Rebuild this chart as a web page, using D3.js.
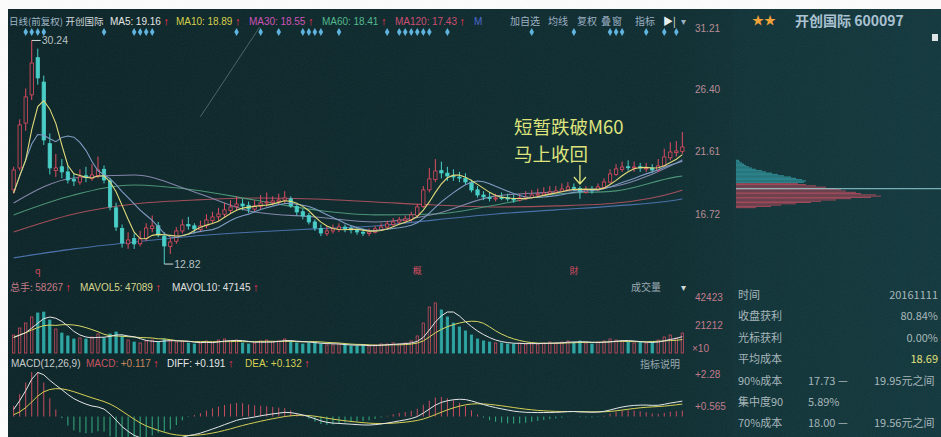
<!DOCTYPE html>
<html>
<head>
<meta charset="utf-8">
<script src="https://cdn.jsdelivr.net/npm/d3@7"></script>
<style>
html, body { margin: 0; padding: 0; background: #fff; }
svg { display: block; font-family: "Liberation Sans", "Noto Sans CJK SC", sans-serif; }
</style>
</head>
<body>
<div id="chart"></div>
<script>
// ---- data ----
// daily candles [open, high, low, close]
const candles = [
  [18.60,20.40,18.30,20.15],[20.30,24.10,20.10,23.66],[23.80,26.50,23.20,25.84],[26.00,30.24,25.60,28.48],
  [28.90,29.60,26.80,27.32],[27.00,27.50,22.10,22.49],[22.20,23.00,19.80,20.31],[20.10,21.40,19.60,20.31],
  [20.40,21.00,19.50,20.00],[20.00,20.50,19.10,19.37],[19.40,19.90,18.90,19.29],[19.20,20.20,19.00,19.61],
  [19.70,20.40,19.20,19.61],[19.50,20.60,19.30,19.76],[19.70,21.20,19.50,20.15],[20.20,20.50,19.10,19.37],
  [19.30,19.50,17.00,17.27],[17.20,17.60,15.40,15.71],[15.60,15.90,14.10,14.47],[14.40,15.30,14.00,14.70],
  [14.80,15.20,14.00,14.39],[14.40,15.40,14.20,14.78],[14.80,16.00,14.60,15.63],[15.60,16.60,15.30,15.79],
  [15.80,16.10,14.90,15.09],[15.00,15.30,12.82,14.23],[14.20,14.90,13.60,14.54],[14.60,15.70,14.40,15.40],
  [15.40,16.30,15.20,15.87],[15.90,16.50,15.50,15.79],[15.80,16.00,15.20,15.56],[15.50,16.20,15.30,15.79],
  [15.80,16.70,15.60,16.26],[16.20,16.90,16.00,16.49],[16.50,17.20,16.20,16.72],[16.70,17.60,16.50,17.04],
  [17.00,17.80,16.80,17.27],[17.30,18.10,17.00,17.50],[17.50,17.90,17.00,17.35],[17.40,17.70,16.80,17.11],
  [17.10,17.80,16.90,17.35],[17.30,18.20,17.10,17.58],[17.60,18.40,17.30,17.66],[17.60,18.10,17.40,17.74],
  [17.70,18.30,17.40,17.81],[17.80,18.50,17.50,17.97],[17.90,18.10,17.20,17.35],[17.30,17.50,16.60,16.88],
  [16.90,17.10,16.30,16.57],[16.60,16.80,15.90,16.10],[16.10,16.30,15.40,15.63],[15.60,15.90,15.00,15.24],
  [15.20,15.80,15.00,15.40],[15.40,15.90,15.20,15.56],[15.50,16.00,15.30,15.71],[15.70,15.90,15.30,15.56],
  [15.60,15.80,15.20,15.48],[15.50,15.70,15.10,15.32],[15.30,15.60,15.00,15.24],[15.20,15.60,15.00,15.32],
  [15.30,15.80,15.20,15.56],[15.50,16.00,15.40,15.71],[15.70,16.20,15.50,15.95],[15.90,16.40,15.70,16.10],
  [16.10,16.50,15.90,16.26],[16.20,16.60,16.00,16.34],[16.30,16.90,16.10,16.65],[16.60,17.50,16.50,17.27],
  [17.30,18.90,17.20,18.59],[18.60,20.30,18.40,19.45],[19.40,21.00,19.20,20.07],[20.10,20.80,19.50,19.92],
  [19.90,20.40,19.30,19.68],[19.70,20.20,19.30,19.61],[19.60,20.00,19.20,19.53],[19.50,19.90,19.00,19.22],
  [19.20,19.40,18.40,18.59],[18.60,18.90,18.00,18.20],[18.20,18.50,17.80,18.05],[18.00,18.40,17.70,17.97],
  [17.90,18.30,17.70,17.97],[18.00,18.40,17.80,17.97],[18.00,18.30,17.70,17.89],[17.90,18.20,17.60,17.81],
  [17.80,18.30,17.70,17.97],[17.90,18.50,17.80,18.05],[18.00,18.60,17.90,18.20],[18.20,18.70,18.00,18.28],
  [18.20,18.80,18.10,18.36],[18.30,18.90,18.20,18.44],[18.40,18.90,18.30,18.52],[18.50,19.10,18.40,18.67],
  [18.60,19.20,18.50,18.83],[18.80,19.10,18.50,18.75],[18.70,18.90,17.90,18.44],[18.40,18.90,18.30,18.59],
  [18.60,18.90,18.30,18.59],[18.60,19.10,18.50,18.83],[18.80,19.50,18.70,19.22],[19.20,20.20,19.10,19.84],
  [19.80,20.60,19.70,20.23],[20.20,20.80,20.00,20.38],[20.40,20.90,20.10,20.38],[20.30,20.80,20.00,20.38],
  [20.40,20.70,20.00,20.31],[20.30,20.70,20.00,20.31],[20.30,20.60,19.90,20.15],[20.10,21.00,20.00,20.46],
  [20.50,21.80,20.40,21.16],[21.10,22.30,20.90,21.55],[21.50,22.40,21.20,21.63],[21.60,23.10,21.40,21.94]
];
const priorCloses = [16.64, 18.30];

const volumes = [
  13600,18900,22700,27300,30300,31000,25000,18200,15100,12900,
  10600,11400,10600,12100,14400,11400,14400,15900,12900,9800,
  8300,7600,9100,9800,8300,10600,9100,8300,9100,7600,
  6800,7600,9100,8300,9800,10600,9100,9800,7600,6800,
  7600,9100,9800,8300,9100,10600,9100,7600,6800,7600,
  8300,6800,6100,6100,6800,6100,5300,5300,6100,5300,
  6100,6800,6800,7600,6800,7600,9100,12900,22700,34800,
  37900,32600,27300,22700,19700,16700,13600,10600,9100,8300,
  7600,7600,6800,6800,7600,6800,7600,6800,7600,8300,
  7600,8300,9100,8300,9100,7600,6800,8300,9100,10600,
  9800,9100,8300,7600,8300,7600,8300,9800,12100,13600,
  11400,15100
];
const priorVolumes = [9800, 12100];

// longer moving averages, read at these bar indices
const maIdx  = [0, 10, 20, 30, 40, 50, 60, 70, 80, 90, 100, 110, 111];
const ma30   = [17.58, 19.53, 19.76, 18.44, 16.88, 16.49, 16.10, 16.72, 18.13, 18.44, 18.90, 20.70, 20.93];
const ma60   = [16.65, 18.20, 18.98, 18.59, 17.81, 17.04, 16.65, 16.72, 17.42, 18.28, 18.52, 19.61, 19.68];
const ma120  = [15.32, 16.72, 17.50, 17.81, 17.97, 17.89, 17.66, 17.42, 17.27, 17.35, 17.58, 18.44, 18.59];
const ma250  = [13.30, 14.00, 14.54, 15.01, 15.32, 15.56, 15.79, 16.26, 16.72, 17.04, 17.35, 17.81, 17.89];

// a drawn trend line [barIndex, price]
const trendLine = [[31, 24.30], [41, 31.40]];

// info-mine markers (bar indices) and event marks
const infoMarks = [2,3,4,5,15,20,21,22,23,37,41,44,48,49,50,51,54,62,64,65,66,67,68,69,72,86,93,99,100,101,105,108,110];
const eventMarks = [[4, "q"], [67, "概"], [93, "財"]];

// tick labels
const priceTicks = [31.21, 26.40, 21.61, 16.72];
const volTicks = [42423, 21212];
const macdTicks = [2.28, 0.565];
const macdTickLabels = ["+2.28", "+0.565"];

// chip distribution (price, amount)
const chipPrices = [17.2,17.3,17.4,17.5,17.6,17.7,17.8,17.9,18.0,18.1,18.2,18.3,18.4,18.5,18.6,18.7,18.8,18.9,19.0,19.1,
                    19.2,19.3,19.4,19.5,19.6,19.7,19.8,19.9,20.0,20.1,20.2,20.3,20.4,20.5,20.6,20.7,20.8,20.9];
const chipAmounts = [20,35,45,60,75,85,100,115,135,145,140,125,120,110,105,100,90,80,70,62,
                     68,70,66,60,55,48,42,36,30,26,20,16,13,10,8,6,4,3];
const chipClose = 19.15;
const avgCost = 18.69;

// header texts
const maHeader = [
  ["MA5:", "19.16", "#e6e6e6"], ["MA10:", "18.89", "#d8d048"], ["MA30:", "18.55", "#cf4fb8"],
  ["MA60:", "18.41", "#4fb88c"], ["MA120:", "17.43", "#d0486e"]
];
const volHeader = [["总手:", "58267", "#c27884"], ["MAVOL5:", "47089", "#d8d88c"], ["MAVOL10:", "47145", "#e0e0e0"]];
const macdHeader = [["MACD:", "+0.117", "#c8505e"], ["DIFF:", "+0.191", "#e8e8e8"], ["DEA:", "+0.132", "#d8d050"]];
const toolButtons = ["加自选", "均线", "复权", "叠", "窗", "指标", "▶|", "▾"];
const statLabels = ["时间", "收盘获利", "光标获利", "平均成本", "90%成本", "集中度90", "70%成本"];
const statMid = ["", "", "", "", "17.73 —", "5.89%", "18.00 —"];
const statValues = ["20161111", "80.84%", "0.00%", "18.69", "19.95元之间", "", "19.56元之间"];

// ---- drawing ----
const width = 941, height = 437;
const svg = d3.select("#chart").append("svg").attr("width", width).attr("height", height);
const defs = svg.append("defs");

const bg = defs.append("linearGradient").attr("id", "bg").attr("x1", 0).attr("x2", 1).attr("y1", 0).attr("y2", 0);
bg.append("stop").attr("offset", "0%").attr("stop-color", "#0a2326");
bg.append("stop").attr("offset", "70%").attr("stop-color", "#0d2c30");
bg.append("stop").attr("offset", "100%").attr("stop-color", "#123a3f");

const noise = defs.append("filter").attr("id", "grain");
noise.append("feTurbulence").attr("type", "fractalNoise").attr("baseFrequency", 0.9).attr("numOctaves", 2).attr("result", "n");
noise.append("feColorMatrix").attr("type", "saturate").attr("values", 0);

function clip(id, x0, y0, w, h) {
  defs.append("clipPath").attr("id", id).append("rect").attr("x", x0).attr("y", y0).attr("width", w).attr("height", h);
}
clip("cp-price", 10, 27, 678, 250);
clip("cp-vol", 10, 293, 678, 62);
clip("cp-macd", 10, 372, 678, 65);

svg.append("rect").attr("width", width).attr("height", height).attr("fill", "#fdfdfd");
svg.append("rect").attr("x", 8).attr("y", 9).attr("width", width - 8).attr("height", height - 9).attr("fill", "url(#bg)");
svg.append("rect").attr("x", 733).attr("y", 9).attr("width", width - 733).attr("height", height - 9).attr("fill", "#10353a").attr("opacity", 0.55);

// scales
const x = d3.scaleBand().domain(d3.range(candles.length)).range([12, 684]).paddingInner(0.45);
const xc = i => x(i) + x.bandwidth() / 2;
const yPrice = d3.scaleLinear().domain([16.72, 31.21]).range([214, 28]);
const yVol = d3.scaleLinear().domain([0, 42423]).range([353, 297]);
const yMacd = d3.scaleLinear().domain([0.565, 2.28]).range([406, 374]);

const upColor = "#e2485e", downColor = "#46cfc8";

// derived series
const allCloses = priorCloses.concat(candles.map(d => d[3]));
const allVols = priorVolumes.concat(volumes);
const off = priorCloses.length;
function movAvg(arr, n) {
  return candles.map((d, i) => d3.mean(arr.slice(Math.max(0, i + off - n + 1), i + off + 1)));
}
const ma5 = movAvg(allCloses, 5), ma10 = movAvg(allCloses, 10);
const mavol5 = movAvg(allVols, 5), mavol10 = movAvg(allVols, 10);

let e12 = allCloses[0], e26 = allCloses[0], dea = 0;
const diffAll = [], deaAll = [];
allCloses.forEach(c => {
  e12 = e12 + (c - e12) * 2 / 13;
  e26 = e26 + (c - e26) * 2 / 27;
  const dif = e12 - e26;
  dea = dea + (dif - dea) * 2 / 10;
  diffAll.push(dif); deaAll.push(dea);
});
const diff = diffAll.slice(off), deaS = deaAll.slice(off);

// ---- price panel ----
const gP = svg.append("g").attr("clip-path", "url(#cp-price)");

gP.append("line")
  .attr("x1", xc(trendLine[0][0])).attr("y1", yPrice(trendLine[0][1]))
  .attr("x2", xc(trendLine[1][0])).attr("y2", yPrice(trendLine[1][1]))
  .attr("stroke", "#7d8f94").attr("stroke-width", 0.8).attr("opacity", 0.7);

const line = d3.line().x(d => xc(d[0])).y(d => yPrice(d[1])).curve(d3.curveMonotoneX);
const longMAs = [[ma250, "#4c76b6"], [ma120, "#b4505c"], [ma60, "#4f9f7c"], [ma30, "#8f8fb8"]];
longMAs.forEach(([vals, col]) => {
  gP.append("path").datum(maIdx.map((i, k) => [i, vals[k]]))
    .attr("d", line).attr("fill", "none").attr("stroke", col).attr("stroke-width", 1.1).attr("opacity", 0.9);
});

const candleG = gP.selectAll(".candle").data(candles).enter().append("g");
candleG.append("line")
  .attr("x1", (d, i) => xc(i)).attr("x2", (d, i) => xc(i))
  .attr("y1", d => yPrice(d[1])).attr("y2", d => yPrice(d[2]))
  .attr("stroke", d => d[3] >= d[0] ? upColor : downColor).attr("stroke-width", 1);
candleG.append("rect")
  .attr("x", (d, i) => x(i)).attr("width", x.bandwidth())
  .attr("y", d => yPrice(Math.max(d[0], d[3])))
  .attr("height", d => Math.max(1, Math.abs(yPrice(d[0]) - yPrice(d[3]))))
  .attr("fill", d => d[3] >= d[0] ? "#0b2528" : downColor)
  .attr("stroke", d => d[3] >= d[0] ? upColor : downColor).attr("stroke-width", 0.8);

[[ma10, "#7d9ac4"], [ma5, "#e2dc78"]].forEach(([vals, col]) => {
  gP.append("path").datum(vals.map((v, i) => [i, v]))
    .attr("d", d3.line().x(d => xc(d[0])).y(d => yPrice(d[1])))
    .attr("fill", "none").attr("stroke", col).attr("stroke-width", 1.1);
});

// high / low labels
const hiIdx = d3.maxIndex(candles, d => d[1]);
const loIdx = d3.minIndex(candles, d => d[2]);
[[hiIdx, candles[hiIdx][1]], [loIdx, candles[loIdx][2]]].forEach(([i, p]) => {
  const yy = yPrice(p);
  svg.append("line").attr("x1", xc(i)).attr("x2", xc(i) + 9).attr("y1", yy).attr("y2", yy)
    .attr("stroke", "#d8dede").attr("stroke-width", 1);
  svg.append("text").attr("x", xc(i) + 10).attr("y", yy + 4).text(p.toFixed(2))
    .attr("fill", "#b8c2c4").attr("font-size", 10.5);
});

// info markers
svg.selectAll(".info").data(infoMarks).enter().append("path")
  .attr("transform", i => `translate(${xc(i)},32)`)
  .attr("d", d3.symbol(d3.symbolDiamond, 18))
  .attr("fill", "#5db4e0");

// event marks
svg.selectAll(".ev").data(eventMarks).enter().append("text")
  .attr("x", d => xc(d[0])).attr("y", 274).attr("text-anchor", "middle")
  .attr("fill", "#d8485e").attr("font-size", 9).attr("font-family", "Noto Sans CJK SC")
  .text(d => d[1]);

// annotation
const annIdx = 94;
const tipY = yPrice(candles[annIdx][1]) - 2;
const ann = svg.append("g").attr("fill", "#dfe47a").attr("font-family", "Noto Sans CJK SC").attr("font-size", 18.5);
ann.append("text").attr("x", xc(annIdx) - 66).attr("y", tipY - 50).text("短暂跌破M60");
ann.append("text").attr("x", xc(annIdx) - 66).attr("y", tipY - 23).text("马上收回");
ann.append("path")
  .attr("d", `M${xc(annIdx)},${tipY - 19}V${tipY}M${xc(annIdx) - 6},${tipY - 7}L${xc(annIdx)},${tipY}L${xc(annIdx) + 6},${tipY - 7}`)
  .attr("stroke", "#dfe47a").attr("stroke-width", 1.3).attr("fill", "none");

// ---- volume panel ----
const gV = svg.append("g").attr("clip-path", "url(#cp-vol)");
gV.selectAll(".vb").data(volumes).enter().append("rect")
  .attr("x", (d, i) => x(i) + 0.5).attr("width", Math.max(1, x.bandwidth() - 1))
  .attr("y", d => yVol(d)).attr("height", d => yVol(0) - yVol(d))
  .attr("fill", (d, i) => candles[i][3] >= candles[i][0] ? "none" : "#2aa6a4")
  .attr("stroke", (d, i) => candles[i][3] >= candles[i][0] ? "#c9485c" : "#2aa6a4").attr("stroke-width", 0.8);
[[mavol10, "#d8d860"], [mavol5, "#e8e8e8"]].forEach(([vals, col]) => {
  gV.append("path").datum(vals)
    .attr("d", d3.line().x((d, i) => xc(i)).y(d => yVol(d)))
    .attr("fill", "none").attr("stroke", col).attr("stroke-width", 1);
});

// ---- MACD panel ----
const gM = svg.append("g").attr("clip-path", "url(#cp-macd)");
gM.selectAll(".hb").data(diff).enter().append("line")
  .attr("x1", (d, i) => xc(i)).attr("x2", (d, i) => xc(i))
  .attr("y1", yMacd(0)).attr("y2", (d, i) => yMacd(2 * (d - deaS[i])))
  .attr("stroke", (d, i) => d - deaS[i] >= 0 ? "#c8485a" : "#2fae80").attr("stroke-width", 1);
[[deaS, "#d8d050"], [diff, "#e4e8e8"]].forEach(([vals, col]) => {
  gM.append("path").datum(vals)
    .attr("d", d3.line().x((d, i) => xc(i)).y(d => yMacd(d)))
    .attr("fill", "none").attr("stroke", col).attr("stroke-width", 1);
});

// ---- axes ----
function rightAxis(scale, vals, fmt, color) {
  const g = svg.append("g").attr("transform", "translate(690,0)")
    .call(d3.axisRight(scale).tickValues(vals).tickSize(0).tickFormat(fmt));
  g.select(".domain").remove();
  g.selectAll("text").attr("fill", color).attr("font-size", 10).attr("font-family", "Liberation Sans").attr("dx", 2);
}
rightAxis(yPrice, priceTicks, d3.format(".2f"), "#b88c96");
rightAxis(yVol, volTicks, d3.format("d"), "#c2788a");
rightAxis(yMacd, macdTicks, (d, i) => macdTickLabels[i], "#c2788a");
svg.append("text").attr("x", 692).attr("y", yVol(0) - 1).text("×10").attr("fill", "#c2788a").attr("font-size", 10);

// ---- headers ----
// lay out label, value and red arrow one after another from a start x
function flow(g, x0, y, parts) {
  let cx = x0;
  parts.forEach(([t, col, fam]) => {
    const el = g.append("text").attr("x", cx).attr("y", y).attr("fill", col).text(t);
    if (fam) el.attr("font-family", fam);
    if (t === "↑") el.attr("font-weight", "bold").attr("font-size", 11);
    cx += el.node().getComputedTextLength() + 2.5;
  });
  return cx;
}
const up = "#ff2c50";
const hdr = svg.append("g").attr("font-size", 10);
const hdrLeft = svg.append("g").attr("font-size", 9.5);
flow(hdrLeft, 9, 25, [["日线(前复权)", "#9fb6c8", "Noto Sans CJK SC"], ["开创国际", "#d4dade", "Noto Sans CJK SC"]]);
[110, 176, 249, 322, 395].forEach((x0, k) => {
  const [lab, val, col] = maHeader[k];
  flow(hdr, x0, 25, [[lab, col], [val, col], ["↑", up]]);
});
hdr.append("text").attr("x", 474).attr("y", 25).attr("fill", "#4a64d0").text("M");
[510, 548, 577, 601, 612, 635, 663, 681].forEach((x0, k) => {
  hdr.append("text").attr("x", x0).attr("y", 25).attr("fill", k === 6 ? "#e8f0f0" : "#9cb0c4")
    .attr("font-family", "Noto Sans CJK SC").text(toolButtons[k]);
});

const vh = svg.append("g").attr("font-size", 10);
[10, 80, 172].forEach((x0, k) => {
  const [lab, val, col] = volHeader[k];
  flow(vh, x0, 291, [[lab, col, k === 0 ? "Noto Sans CJK SC" : null], [val, col], ["↑", up]]);
});
vh.append("text").attr("x", 631).attr("y", 291).attr("fill", "#9aa8b0").attr("font-family", "Noto Sans CJK SC").text("成交量");
vh.append("text").attr("x", 681).attr("y", 291).attr("fill", "#d0d8d8").text("▾");

const mh = svg.append("g").attr("font-size", 10);
mh.append("text").attr("x", 11).attr("y", 367).attr("fill", "#c8cccc").text("MACD(12,26,9)");
[86, 167, 245].forEach((x0, k) => {
  const [lab, val, col] = macdHeader[k];
  flow(mh, x0, 367, [[lab, col], [val, k === 0 ? "#c8845a" : col], ["↑", up]]);
});
mh.append("text").attr("x", 640).attr("y", 368).attr("fill", "#9aa8b0").attr("font-family", "Noto Sans CJK SC").text("指标说明");

// ---- right panel ----
svg.append("text").attr("x", 752).attr("y", 25).attr("fill", "#f2a234").attr("font-size", 12).text("★★");
svg.append("text").attr("x", 795).attr("y", 26).attr("fill", "#a9c2d2").attr("font-size", 14)
  .attr("font-family", "Noto Sans CJK SC").attr("font-weight", "bold").text("开创国际 600097");
svg.append("rect").attr("x", 932).attr("y", 34).attr("width", 6).attr("height", 7).attr("fill", "#dfe6e8");

const chipX = d3.scaleLinear().domain([0, 145]).range([0, 145]);
svg.selectAll(".chip").data(chipPrices).enter().append("rect")
  .attr("x", 736).attr("y", p => yPrice(p) - 0.6)
  .attr("width", (p, i) => chipX(chipAmounts[i])).attr("height", p => p > chipClose ? 1.4 : 0.9)
  .attr("fill", p => p > chipClose ? "#2a8790" : "#c14a5e").attr("opacity", 0.9);
svg.append("line").attr("x1", 736).attr("x2", width).attr("y1", yPrice(avgCost)).attr("y2", yPrice(avgCost))
  .attr("stroke", "#8fd0d6").attr("stroke-width", 1);

const st = svg.append("g").attr("font-family", "Noto Sans CJK SC").attr("font-size", 11).attr("fill", "#a6b6ba");
statLabels.forEach((t, k) => {
  const yy = 299 + k * 21.4;
  st.append("text").attr("x", 738).attr("y", yy).text(t);
  if (statMid[k]) st.append("text").attr("x", 808).attr("y", yy).text(statMid[k]);
  if (statValues[k]) {
    const isRange = statValues[k].includes("元");
    st.append("text").attr("x", isRange ? 874 : 938).attr("y", yy)
      .attr("text-anchor", isRange ? "start" : "end")
      .attr("fill", k === 3 ? "#e4e47a" : "#a6b6ba").text(statValues[k]);
  }
});

// photo grain
svg.append("rect").attr("x", 8).attr("y", 9).attr("width", width - 8).attr("height", height - 9)
  .attr("filter", "url(#grain)").attr("opacity", 0.07);
</script>
</body>
</html>
